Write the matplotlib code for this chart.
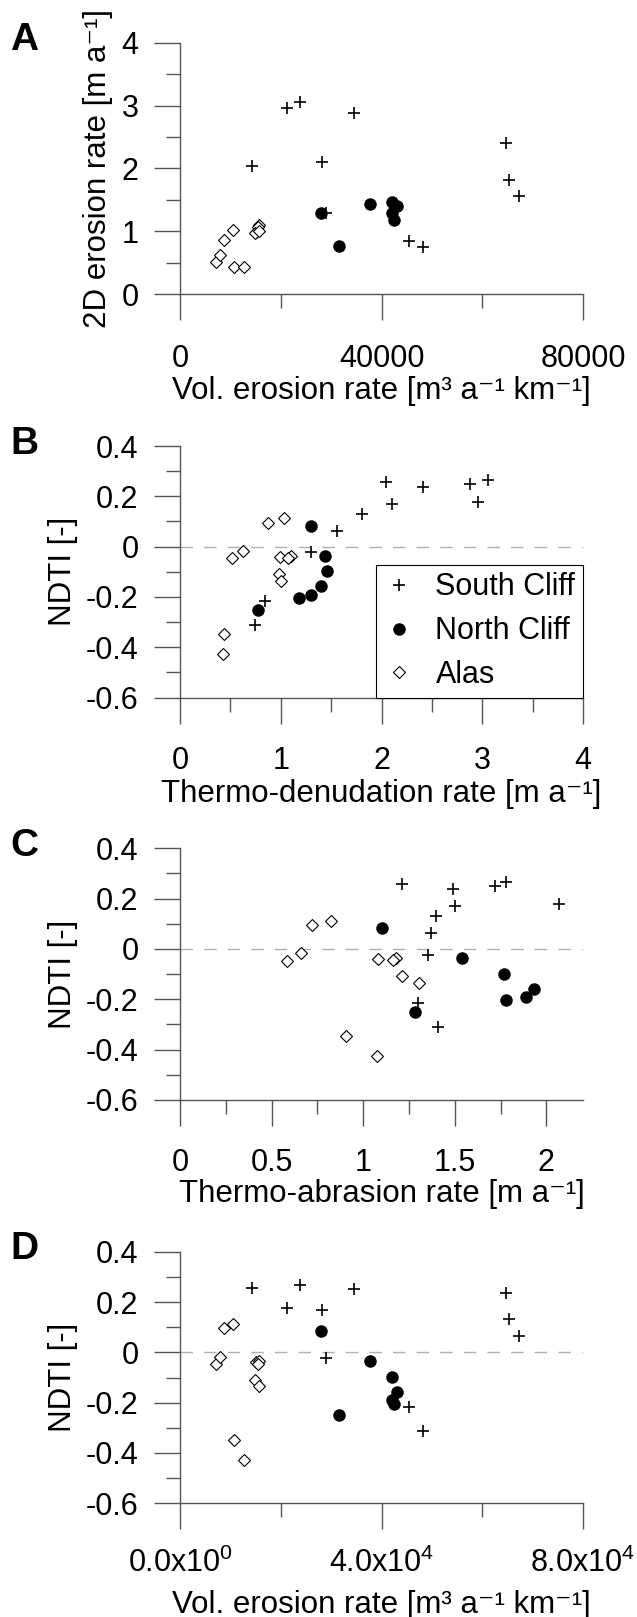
import matplotlib
matplotlib.use("Agg")
import matplotlib.pyplot as plt
import matplotlib as mpl

mpl.rcParams.update({
    "font.family": ["Liberation Sans", "DejaVu Sans"],
    "mathtext.fontset": "custom",
    "mathtext.rm": "Liberation Sans",
    "mathtext.it": "Liberation Sans:italic",
    "mathtext.bf": "Liberation Sans:bold",
    "mathtext.default": "regular",
    "axes.unicode_minus": False,
    "axes.edgecolor": "#555555",
    "axes.linewidth": 1.0,
})

# ---- data (one entry per profile) ----
groups = ["South Cliff", "North Cliff", "Alas"]

sc_vol = [14200, 21200, 23900, 34450, 28200, 28900, 64700, 65400, 67300, 45500, 48300]
sc_td = [2.04, 2.96, 3.06, 2.88, 2.10, 1.30, 2.41, 1.81, 1.56, 0.84, 0.745]
sc_ta = [1.21, 2.07, 1.78, 1.72, 1.50, 1.355, 1.49, 1.40, 1.37, 1.30, 1.41]
sc_ndti = [0.257, 0.177, 0.266, 0.250, 0.170, -0.023, 0.237, 0.131, 0.064, -0.216, -0.312]

nc_vol = [27900, 37800, 42100, 43100, 42000, 42500, 31600]
nc_td = [1.30, 1.44, 1.46, 1.40, 1.30, 1.18, 0.77]
nc_ta = [1.10, 1.54, 1.77, 1.93, 1.89, 1.78, 1.285]
nc_ndti = [0.084, -0.036, -0.098, -0.158, -0.191, -0.204, -0.250]

al_vol = [8700, 10450, 7100, 7900, 10700, 12650, 15150, 15700, 15450, 14900, 15700]
al_td = [0.87, 1.03, 0.52, 0.63, 0.44, 0.43, 0.995, 1.10, 1.075, 0.98, 1.00]
al_ta = [0.72, 0.824, 0.582, 0.658, 0.908, 1.074, 1.081, 1.18, 1.163, 1.214, 1.302]
al_ndti = [0.095, 0.112, -0.046, -0.017, -0.347, -0.427, -0.040, -0.036, -0.045, -0.108, -0.135]

vol = [sc_vol, nc_vol, al_vol]
td = [sc_td, nc_td, al_td]
ta = [sc_ta, nc_ta, al_ta]
ndti = [sc_ndti, nc_ndti, al_ndti]

ndti_ticks = [-0.6, -0.4, -0.2, 0, 0.2, 0.4]
ndti_labels = ["-0.6", "-0.4", "-0.2", "0", "0.2", "0.4"]

# ---- layout (pixels of a 637x1617 figure) ----
W, H = 637, 1617
X0, X1 = 180, 583
AX_H = 251.6
tops = [42.7, 446, 848.3, 1251.7]

fig = plt.figure(figsize=(W / 100, H / 100), dpi=100)
axes = [fig.add_axes([X0 / W, 1 - (t + AX_H) / H, (X1 - X0) / W, AX_H / H]) for t in tops]

TICK_FS = 22
LAB_FS = 22.5
styles = [
    dict(marker="+", ms=9, mew=1.2, color="black", zorder=4),
    dict(marker="o", ms=9, mew=0, color="black", zorder=3),
    dict(marker="D", ms=6, mew=0.8, mfc="white", mec="black", zorder=5),
]


def scatter_groups(ax, xs, ys):
    for x, y, name, st in zip(xs, ys, groups, styles):
        ax.plot(x, y, ls="none", label=name, **st)


def style_axes(ax, xpad, label_drop):
    for s in ["top", "right"]:
        ax.spines[s].set_visible(False)
    ax.tick_params(which="both", direction="out", width=1.0,
                   color="#555555", labelsize=TICK_FS)
    ax.tick_params(which="major", length=18.5)
    ax.tick_params(which="minor", length=10)
    ax.tick_params(axis="y", which="both", pad=11.3)
    ax.tick_params(axis="x", which="major", pad=xpad)
    ax.xaxis.set_label_coords(0.5, -label_drop / AX_H)


# A
ax = axes[0]
scatter_groups(ax, vol, td)
ax.set_xlim(0, 80000)
ax.set_ylim(0, 4)
ax.set_xticks([0, 40000, 80000], labels=["0", "40000", "80000"])
ax.set_xticks([20000, 60000], minor=True)
ax.set_yticks([0, 1, 2, 3, 4], labels=["0", "1", "2", "3", "4"])
ax.set_yticks([0.5, 1.5, 2.5, 3.5], minor=True)
ax.set_xlabel("Vol. erosion rate [m³ a⁻¹ km⁻¹]", fontsize=LAB_FS)
ax.set_ylabel("2D erosion rate [m a⁻¹]", fontsize=LAB_FS, labelpad=6)

# B
ax = axes[1]
ax.axhline(0, color="#b0b0b0", lw=1.0, dashes=(9, 8), zorder=1)
scatter_groups(ax, td, ndti)
ax.set_xlim(0, 4)
ax.set_xticks([0, 1, 2, 3, 4], labels=["0", "1", "2", "3", "4"])
ax.set_xticks([0.5, 1.5, 2.5, 3.5], minor=True)
ax.set_xlabel("Thermo-denudation rate [m a⁻¹]", fontsize=LAB_FS)
leg = ax.legend(loc="lower right", bbox_to_anchor=(1, 0), borderaxespad=0,
                fancybox=False, edgecolor="black", framealpha=1, fontsize=22,
                handlelength=1.0, handletextpad=0.7, borderpad=0.25,
                labelspacing=0.45)
leg.get_frame().set_linewidth(0.8)

# C
ax = axes[2]
ax.axhline(0, color="#b0b0b0", lw=1.0, dashes=(9, 8), zorder=1)
scatter_groups(ax, ta, ndti)
ax.set_xlim(0, 2.2)
ax.set_xticks([0, 0.5, 1, 1.5, 2], labels=["0", "0.5", "1", "1.5", "2"])
ax.set_xticks([0.25, 0.75, 1.25, 1.75], minor=True)
ax.set_xlabel("Thermo-abrasion rate [m a⁻¹]", fontsize=LAB_FS)

# D
ax = axes[3]
ax.axhline(0, color="#b0b0b0", lw=1.0, dashes=(9, 8), zorder=1)
scatter_groups(ax, vol, ndti)
ax.set_xlim(0, 80000)
ax.set_xticks([0, 40000, 80000],
              labels=["0.0x10$^0$", "4.0x10$^4$", "8.0x10$^4$"])
ax.set_xticks([20000, 60000], minor=True)
ax.set_xlabel("Vol. erosion rate [m³ a⁻¹ km⁻¹]", fontsize=LAB_FS)

for ax in axes[1:]:
    ax.set_ylim(-0.6, 0.4)
    ax.set_yticks(ndti_ticks, labels=ndti_labels)
    ax.set_yticks([-0.5, -0.3, -0.1, 0.1, 0.3], minor=True)
    ax.set_ylabel("NDTI [-]", fontsize=LAB_FS, labelpad=6)

# tick-label pad (pt) and label top offset below the axis (px) per panel
for ax, xpad, drop in zip(axes, [17.5, 16.5, 16, 13.7], [82, 81.5, 79, 86.5]):
    style_axes(ax, xpad, drop)

for letter, t in zip("ABCD", tops):
    fig.text(10 / W, 1 - (t + 7.5) / H, letter, fontsize=28, fontweight="bold",
             va="baseline", ha="left")

fig.savefig("out.png", dpi=100)
